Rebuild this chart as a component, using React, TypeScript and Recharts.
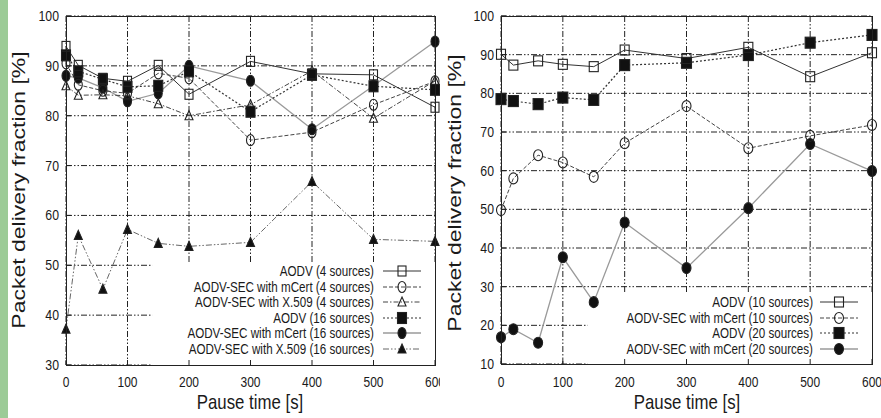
import React from 'react';
import { LineChart, Line, XAxis, YAxis, CartesianGrid, ReferenceArea } from 'recharts';

const pauseTimes = [0, 20, 60, 100, 150, 200, 300, 400, 500, 600];
const xTicks = [0, 100, 200, 300, 400, 500, 600];

// left panel: 4 and 16 sources
const aodv4 = [93.9, 90.1, 87.5, 86.9, 90.1, 84.3, 90.9, 88.4, 88.2, 81.7];
const mcert4 = [90.5, 86.2, 85.0, 84.5, 88.5, 87.5, 75.1, 76.7, 82.2, 86.9];
const x509_4 = [86.0, 84.1, 84.2, 84.0, 82.4, 80.0, 82.2, 89.0, 79.5, 87.0];
const aodv16 = [92.1, 88.9, 87.3, 85.8, 86.0, 88.9, 80.8, 88.2, 85.9, 85.2];
const mcert16 = [88.0, 87.6, 85.6, 82.9, 84.5, 90.0, 87.0, 77.3, 86.0, 94.9];
const x509_16 = [37.2, 56.0, 45.2, 57.2, 54.4, 53.8, 54.6, 66.8, 55.2, 54.8];
const leftYTicks = [30, 40, 50, 60, 70, 80, 90, 100];

// right panel: 10 and 20 sources
const aodv10 = [90.1, 87.3, 88.4, 87.5, 86.9, 91.2, 89.0, 91.9, 84.3, 90.5];
const mcert10 = [49.8, 58.0, 64.0, 62.1, 58.4, 67.1, 76.7, 65.8, 69.0, 71.8];
const aodv20 = [78.5, 78.0, 77.2, 78.9, 78.3, 87.3, 87.9, 89.9, 93.1, 95.1];
const mcert20 = [16.9, 19.0, 15.5, 37.6, 26.0, 46.6, 34.8, 50.3, 66.9, 59.9];
const rightYTicks = [10, 20, 30, 40, 50, 60, 70, 80, 90, 100];

const FONT = '"Liberation Sans", Arial, Helvetica, sans-serif';
const INK = '#1a1a1a';
const GRID_DASH = '6 2 1.5 2 1.5 2';

type Shape = 'openSquare' | 'openCircle' | 'openTriangle' | 'square' | 'circle' | 'triangle';

interface Series {
  key: string;
  name: string;
  values: number[];
  stroke: string;
  width: number;
  dash?: string;
  shape: Shape;
}

const leftSeries: Series[] = [
  { key: 'x509_16', name: 'AODV-SEC with X.509 (16 sources)', values: x509_16, stroke: '#666', width: 1, dash: '6 2 1.5 2 1.5 2', shape: 'triangle' },
  { key: 'mcert16', name: 'AODV-SEC with mCert (16 sources)', values: mcert16, stroke: '#9a9a9a', width: 1.3, shape: 'circle' },
  { key: 'x509_4', name: 'AODV-SEC with X.509 (4 sources)', values: x509_4, stroke: '#444', width: 1, dash: '5 2 1.5 2', shape: 'openTriangle' },
  { key: 'mcert4', name: 'AODV-SEC with mCert (4 sources)', values: mcert4, stroke: '#444', width: 1, dash: '4 2', shape: 'openCircle' },
  { key: 'aodv16', name: 'AODV (16 sources)', values: aodv16, stroke: '#333', width: 1.2, dash: '2 2', shape: 'square' },
  { key: 'aodv4', name: 'AODV (4 sources)', values: aodv4, stroke: '#333', width: 1, shape: 'openSquare' },
];
const leftLegendOrder = ['aodv4', 'mcert4', 'x509_4', 'aodv16', 'mcert16', 'x509_16'];

const rightSeries: Series[] = [
  { key: 'mcert20', name: 'AODV-SEC with mCert (20 sources)', values: mcert20, stroke: '#9a9a9a', width: 1.3, shape: 'circle' },
  { key: 'mcert10', name: 'AODV-SEC with mCert (10 sources)', values: mcert10, stroke: '#444', width: 1, dash: '4 2', shape: 'openCircle' },
  { key: 'aodv20', name: 'AODV (20 sources)', values: aodv20, stroke: '#333', width: 1.2, dash: '2 2', shape: 'square' },
  { key: 'aodv10', name: 'AODV (10 sources)', values: aodv10, stroke: '#333', width: 1, shape: 'openSquare' },
];
const rightLegendOrder = ['aodv10', 'mcert10', 'aodv20', 'mcert20'];

const buildRows = (series: Series[]) =>
  pauseTimes.map((t, i) => {
    const row: Record<string, number> = { t };
    series.forEach((s) => (row[s.key] = s.values[i]));
    return row;
  });

function Marker({ shape, cx, cy, w = 8, h = 10 }: { shape: Shape; cx: number; cy: number; w?: number; h?: number }) {
  const filled = !shape.startsWith('open');
  const fill = filled ? '#111' : 'none';
  const common = { fill, stroke: '#222', strokeWidth: 1.1 };
  if (shape === 'square' || shape === 'openSquare') {
    const fw = filled ? w + 1 : w;
    const fh = filled ? h + 1 : h;
    return <rect x={cx - fw / 2} y={cy - fh / 2} width={fw} height={fh} {...common} />;
  }
  if (shape === 'circle' || shape === 'openCircle') {
    return <ellipse cx={cx} cy={cy} rx={w / 2} ry={h / 2 + 0.5} {...common} />;
  }
  const pts = `${cx},${cy - h / 2} ${cx + w / 2},${cy + h / 2 - 1} ${cx - w / 2},${cy + h / 2 - 1}`;
  return <polygon points={pts} {...common} />;
}

interface Panel {
  left: number;
  width: number;
  plot: { left: number; right: number; top: number; bottom: number };
  yDomain: [number, number];
  yTicks: number[];
  series: Series[];
  legendOrder: string[];
  legendBox: { x1: number; y2: number };
  legendTextRight: number;
  legendSampleX: number;
  legendRowTop: number;
  xLabelX: number;
  yLabelX: number;
  yLabelY: number;
  marker: { w: number; h: number };
}

const panels: Panel[] = [
  {
    left: 0,
    width: 440,
    plot: { left: 66, right: 435, top: 16, bottom: 365 },
    yDomain: [30, 100],
    yTicks: leftYTicks,
    series: leftSeries,
    legendOrder: leftLegendOrder,
    legendBox: { x1: 140, y2: 50.6 },
    legendTextRight: 374,
    legendSampleX: 383,
    legendRowTop: 271,
    xLabelX: 250,
    yLabelX: 19,
    yLabelY: 190,
    marker: { w: 8, h: 10 },
  },
  {
    left: 440,
    width: 441,
    plot: { left: 501, right: 872, top: 16, bottom: 364 },
    yDomain: [10, 100],
    yTicks: rightYTicks,
    series: rightSeries,
    legendOrder: rightLegendOrder,
    legendBox: { x1: 140, y2: 28.4 },
    legendTextRight: 813,
    legendSampleX: 820,
    legendRowTop: 302,
    xLabelX: 687,
    yLabelX: 455,
    yLabelY: 193,
    marker: { w: 9, h: 10 },
  },
];

function PanelChart({ p }: { p: Panel }) {
  const rows = buildRows(p.series);
  const localLeft = p.plot.left - p.left;
  const localRight = p.left + p.width - p.plot.right;
  const xAxisH = 418 - p.plot.bottom;

  const XTick = (props: any) => (
    <g transform={`translate(${props.x},387)`}>
      <text textAnchor="middle" fontSize={15} fill={INK} fontFamily={FONT} transform="scale(0.8,1)">
        {props.payload.value}
      </text>
    </g>
  );
  const YTick = (props: any) => (
    <g transform={`translate(${localLeft - 7},${props.y + 5})`}>
      <text textAnchor="end" fontSize={15} fill={INK} fontFamily={FONT} transform="scale(0.82,1)">
        {props.payload.value}
      </text>
    </g>
  );

  return (
    <div style={{ position: 'absolute', left: p.left, top: 0 }}>
      <LineChart width={p.width} height={418} data={rows} margin={{ top: p.plot.top, right: localRight, bottom: 0, left: 0 }}>
        <CartesianGrid stroke="#222" strokeWidth={1} strokeDasharray={GRID_DASH} />
        <ReferenceArea x1={p.legendBox.x1} x2={600} y1={p.yDomain[0]} y2={p.legendBox.y2} fill="#fff" fillOpacity={1} stroke="none" />
        <XAxis
          dataKey="t"
          type="number"
          domain={[0, 600]}
          ticks={xTicks}
          height={xAxisH}
          axisLine={false}
          tickLine={{ stroke: '#222' }}
          tickSize={-5}
          tick={XTick}
          interval={0}
        />
        <YAxis
          type="number"
          domain={p.yDomain}
          ticks={p.yTicks}
          width={localLeft}
          axisLine={false}
          tickLine={{ stroke: '#222' }}
          tickSize={-5}
          tick={YTick}
          interval={0}
        />
        <YAxis
          yAxisId="mirror"
          orientation="right"
          type="number"
          domain={p.yDomain}
          ticks={p.yTicks}
          width={0}
          axisLine={false}
          tickLine={{ stroke: '#222' }}
          tickSize={-5}
          tick={false}
        />
        {p.series.map((s) => (
          <Line
            key={s.key}
            dataKey={s.key}
            type="linear"
            stroke={s.stroke}
            strokeWidth={s.width}
            strokeDasharray={s.dash}
            isAnimationActive={false}
            activeDot={false}
            dot={(d: any) => <Marker key={`${s.key}-${d.index}`} shape={s.shape} cx={d.cx} cy={d.cy} w={p.marker.w} h={p.marker.h} />}
          />
        ))}
      </LineChart>
    </div>
  );
}

function PanelOverlay({ p }: { p: Panel }) {
  const byKey = Object.fromEntries(p.series.map((s) => [s.key, s]));
  return (
    <>
      {/* plot frame */}
      <div
        style={{
          position: 'absolute',
          left: p.plot.left,
          top: p.plot.top,
          width: p.plot.right - p.plot.left + 1,
          height: p.plot.bottom - p.plot.top + 1,
          border: '1px solid #222',
          boxSizing: 'border-box',
          pointerEvents: 'none',
        }}
      />
      {/* key */}
      {p.legendOrder.map((k, i) => {
        const s = byKey[k];
        const cy = p.legendRowTop + i * 15.6;
        return (
          <React.Fragment key={k}>
            <div
              style={{
                position: 'absolute',
                left: p.legendTextRight - 400,
                width: 400,
                top: cy - 8,
                height: 16,
                lineHeight: '16px',
                fontSize: 14,
                fontFamily: FONT,
                color: INK,
                textAlign: 'right',
                whiteSpace: 'nowrap',
                transform: 'scaleX(0.83)',
                transformOrigin: 'right center',
              }}
            >
              {s.name}
            </div>
            <svg style={{ position: 'absolute', left: p.legendSampleX, top: cy - 7 }} width={38} height={14}>
              <line x1={0} y1={7} x2={38} y2={7} stroke={s.stroke} strokeWidth={s.width} strokeDasharray={s.dash} />
              <Marker shape={s.shape} cx={19} cy={7} w={p.marker.w} h={p.marker.h} />
            </svg>
          </React.Fragment>
        );
      })}
      {/* axis titles */}
      <div
        style={{
          position: 'absolute',
          left: p.xLabelX,
          top: 391,
          fontSize: 21,
          lineHeight: '21px',
          fontFamily: FONT,
          color: INK,
          whiteSpace: 'nowrap',
          transform: 'translateX(-50%) scaleX(0.8)',
        }}
      >
        Pause time [s]
      </div>
      <div
        style={{
          position: 'absolute',
          left: p.yLabelX,
          top: p.yLabelY,
          fontSize: 23,
          lineHeight: '23px',
          fontFamily: FONT,
          color: INK,
          whiteSpace: 'nowrap',
          transform: 'translate(-50%,-50%) rotate(-90deg) scaleY(0.8)',
        }}
      >
        Packet delivery fraction [%]
      </div>
    </>
  );
}

export default function App() {
  return (
    <div style={{ position: 'absolute', left: 0, top: 0, width: 881, height: 418, background: '#fff', overflow: 'hidden' }}>
      <div style={{ position: 'absolute', left: 0, top: 0, width: 8, height: 418, background: '#9ccb97' }} />
      {panels.map((p, i) => (
        <PanelChart key={i} p={p} />
      ))}
      {panels.map((p, i) => (
        <PanelOverlay key={`o${i}`} p={p} />
      ))}
    </div>
  );
}
